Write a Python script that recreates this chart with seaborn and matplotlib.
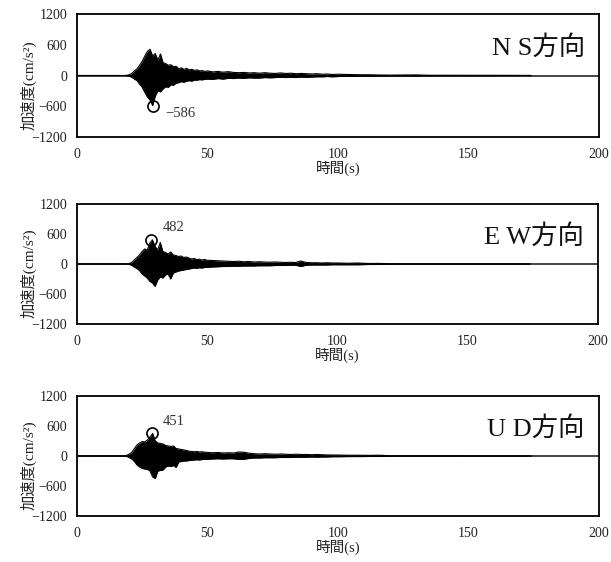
import numpy as np
import pandas as pd
import matplotlib
matplotlib.use("Agg")
import matplotlib.pyplot as plt
import seaborn as sns

# envelope (s), shared by all three components
time_s = [0, 18, 19, 20, 21, 22, 23, 24, 25, 26, 27, 28, 29, 30, 31, 32, 33, 34,
          35, 36, 37, 38, 39, 40, 41, 42, 43, 44, 45, 46, 47, 48, 49, 50, 52, 54,
          56, 58, 60, 62, 64, 66, 68, 70, 72, 74, 76, 78, 80, 82, 84, 86, 88, 90,
          92, 94, 96, 98, 100, 104, 108, 112, 116, 120, 125, 130, 135, 140, 150,
          160, 174]

ns_upper = [0, 0, 3, 15, 40, 90, 130, 200, 280, 380, 470, 513, 380, 430, 300, 420,
            250, 230, 200, 210, 170, 180, 130, 150, 120, 140, 110, 120, 100, 110, 90,
            95, 80, 90, 70, 80, 65, 75, 60, 55, 60, 50, 55, 45, 55, 45, 40, 50, 40,
            45, 35, 40, 35, 30, 35, 25, 30, 20, 25, 20, 15, 15, 10, 8, 10, 12, 5, 5,
            4, 4, 2]
ns_lower = [0, 0, -3, -12, -35, -70, -100, -170, -230, -330, -420, -480, -586, -400,
            -300, -320, -260, -220, -230, -180, -190, -150, -140, -120, -130, -110,
            -100, -110, -90, -90, -80, -85, -75, -70, -75, -60, -70, -55, -60, -50,
            -55, -45, -50, -50, -40, -45, -40, -35, -40, -35, -40, -30, -35, -30,
            -25, -25, -20, -25, -20, -15, -15, -10, -10, -8, -8, -10, -5, -5, -4,
            -4, -2]

ew_upper = [0, 0, 2, 8, 30, 80, 130, 180, 250, 300, 280, 420, 482, 350, 280, 430,
            250, 230, 200, 240, 180, 170, 150, 160, 130, 140, 120, 100, 110, 90, 95,
            80, 90, 75, 70, 65, 60, 55, 50, 55, 45, 50, 40, 45, 40, 35, 40, 35, 30,
            35, 30, 60, 30, 25, 25, 20, 25, 20, 20, 15, 20, 10, 12, 5, 3, 3, 3, 3,
            2, 2, 2]
ew_lower = [0, 0, -2, -8, -25, -60, -90, -130, -200, -240, -280, -350, -380, -450,
            -320, -260, -280, -220, -200, -300, -180, -160, -140, -130, -120, -110,
            -100, -90, -80, -85, -75, -80, -70, -65, -60, -55, -50, -50, -45, -45,
            -40, -40, -40, -35, -35, -35, -30, -30, -30, -25, -25, -50, -25, -20,
            -20, -20, -20, -15, -15, -15, -15, -10, -10, -5, -3, -3, -3, -3, -2,
            -2, -2]

ud_upper = [0, 2, 10, 40, 70, 150, 220, 260, 290, 280, 320, 380, 451, 300, 260,
            250, 240, 210, 200, 190, 200, 150, 140, 130, 120, 110, 95, 90, 85, 90,
            80, 85, 75, 70, 65, 70, 60, 65, 60, 80, 75, 55, 45, 40, 45, 40, 35, 40,
            35, 30, 35, 30, 30, 25, 30, 25, 20, 20, 18, 15, 15, 12, 15, 5, 3, 3, 3,
            3, 2, 2, 2]
ud_lower = [0, -2, -8, -30, -60, -110, -180, -220, -250, -260, -270, -300, -420,
            -450, -300, -290, -280, -220, -200, -210, -190, -230, -120, -110, -100,
            -100, -90, -85, -80, -75, -80, -70, -70, -65, -60, -55, -60, -55, -55,
            -70, -65, -50, -40, -40, -35, -35, -35, -30, -30, -30, -25, -25, -25,
            -20, -25, -20, -20, -15, -15, -12, -12, -10, -10, -5, -3, -3, -3, -3,
            -2, -2, -2]

components = ["N S方向", "E W方向", "U D方向"]
peak_time = [29.0, 28.6, 28.7]
peak_value = [-586, 482, 451]
peak_label = ["−586", "482", "451"]
label_pos = [(34, -740), (33, 735), (33, 690)]

x_ticks = [0, 50, 100, 150, 200]
y_ticks = [-1200, -600, 0, 600, 1200]

sns.set_theme(style="white")
SERIF = ["Liberation Serif", "Noto Sans CJK JP"]
plt.rcParams["font.family"] = SERIF

fig = plt.figure(figsize=(6.11, 5.62), dpi=100)
panel_boxes = [
    (0.126, 0.7562, 0.854, 0.2189),
    (0.126, 0.4235, 0.852, 0.2135),
    (0.126, 0.0819, 0.854, 0.2135),
]
envelopes = [(ns_upper, ns_lower), (ew_upper, ew_lower), (ud_upper, ud_lower)]

for i, box in enumerate(panel_boxes):
    ax = fig.add_axes(box)
    upper, lower = envelopes[i]
    df = pd.DataFrame({"t": time_s, "upper": upper, "lower": lower})

    ax.axhline(0, color="#444444", linewidth=1.4, zorder=1)
    ax.fill_between(df["t"], df["lower"], df["upper"], color="black",
                    linewidth=0, zorder=2)
    sns.lineplot(data=df, x="t", y="upper", ax=ax, color="black",
                 linewidth=0.8, estimator=None, sort=False, zorder=3)
    sns.lineplot(data=df, x="t", y="lower", ax=ax, color="black",
                 linewidth=0.8, estimator=None, sort=False, zorder=3)

    # peak marker + value
    ax.plot(peak_time[i], peak_value[i], marker="o", ms=8, mfc="none",
            mec="black", mew=1.2, zorder=4)
    ax.text(label_pos[i][0], label_pos[i][1], peak_label[i], fontsize=10.5,
            color="#333333", ha="left", va="center", family=SERIF)

    ax.text(0.973, 0.73, components[i], transform=ax.transAxes, fontsize=19,
            ha="right", va="center", color="#111111", family=SERIF)

    ax.set_xlim(0, 200)
    ax.set_ylim(-1200, 1200)
    ax.set_xticks(x_ticks)
    ax.set_yticks(y_ticks)
    ax.set_xticklabels([str(v) for v in x_ticks], fontsize=10)
    ax.set_yticklabels([str(v).replace("-", "−") for v in y_ticks], fontsize=10)
    ax.tick_params(axis="x", direction="in", length=4, width=1, color="black",
                   pad=8, labelcolor="#222222")
    ax.tick_params(axis="y", length=0, pad=7, labelcolor="#222222")
    ax.set_xlabel("時間(s)", fontsize=10.5, labelpad=0, color="#222222")
    ax.set_ylabel("加速度(cm/s²)", fontsize=11, color="#222222")
    ax.yaxis.set_label_coords(-0.078, 0.42)
    for s in ax.spines.values():
        s.set_visible(True)
        s.set_color("black")
        s.set_linewidth(1.3)

fig.savefig("out.png", dpi=100)
plt.close(fig)
